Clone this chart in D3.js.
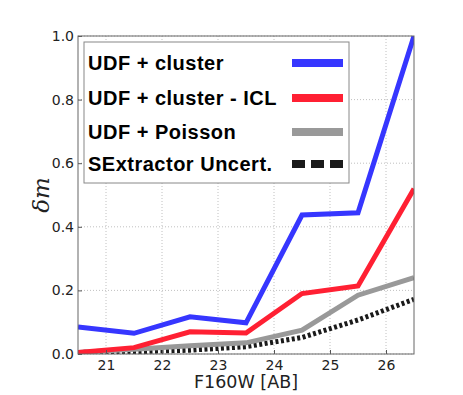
<!DOCTYPE html>
<html>
<head>
<meta charset="utf-8">
<script src="https://cdn.jsdelivr.net/npm/d3@7"></script>
<style>
  body { margin: 0; background: #fff; }
  text { font-family: "DejaVu Sans", sans-serif; }
</style>
</head>
<body>
<div id="chart"></div>
<script>
var width = 463;
var height = 395;

// magnitude bins
var mags = [20.5, 21.5, 22.5, 23.5, 24.5, 25.5, 26.5];
var udfCluster = [0.085, 0.065, 0.117, 0.098, 0.437, 0.444, 1.0];
var udfClusterIcl = [0.005, 0.02, 0.07, 0.066, 0.19, 0.214, 0.52];
var udfPoisson = [0.005, 0.015, 0.026, 0.035, 0.075, 0.185, 0.24];
var sexUncert = [0.005, 0.007, 0.012, 0.023, 0.052, 0.107, 0.172];
var xTicks = [21, 22, 23, 24, 25, 26];
var yTicks = [0.0, 0.2, 0.4, 0.6, 0.8, 1.0];
var names = ["UDF + cluster", "UDF + cluster - ICL", "UDF + Poisson", "SExtractor Uncert."];

var margin = {left: 78, top: 36, right: 49, bottom: 41};
var w = width - margin.left - margin.right;
var h = height - margin.top - margin.bottom;

var svg = d3.select("#chart").append("svg")
    .attr("width", width)
    .attr("height", height);

var g = svg.append("g")
    .attr("transform", "translate(" + margin.left + "," + margin.top + ")");

var x = d3.scaleLinear().domain([20.5, 26.5]).range([0, w]);
var y = d3.scaleLinear().domain([0, 1]).range([h, 0]);

// grid
g.selectAll(".vgrid").data(xTicks).enter().append("line")
    .attr("x1", d => x(d)).attr("x2", d => x(d))
    .attr("y1", 0).attr("y2", h)
    .attr("stroke", "#b0b0b0").attr("stroke-width", 0.8)
    .attr("stroke-dasharray", "1,2");
g.selectAll(".hgrid").data(yTicks).enter().append("line")
    .attr("y1", d => y(d)).attr("y2", d => y(d))
    .attr("x1", 0).attr("x2", w)
    .attr("stroke", "#b0b0b0").attr("stroke-width", 0.8)
    .attr("stroke-dasharray", "1,2");

svg.append("defs").append("clipPath").attr("id", "clip")
  .append("rect").attr("width", w).attr("height", h);

var series = [
  {vals: udfCluster, color: "#3636ff", dash: null},
  {vals: udfClusterIcl, color: "#ff2033", dash: null},
  {vals: udfPoisson, color: "#999999", dash: null},
  {vals: sexUncert, color: "#1a1a1a", dash: "3,2.5"}
];

var line = d3.line()
    .x((d, i) => x(mags[i]))
    .y(d => y(d));

var lines = g.append("g").attr("clip-path", "url(#clip)");
series.slice().reverse().forEach(function(s) {
  lines.append("path")
    .attr("d", line(s.vals))
    .attr("fill", "none")
    .attr("stroke", s.color)
    .attr("stroke-width", 5)
    .attr("stroke-linejoin", "miter")
    .attr("stroke-dasharray", s.dash);
});

// axes
var xAxis = d3.axisBottom(x).tickValues(xTicks).tickSize(-4).tickPadding(6).tickFormat(d3.format("d"));
var yAxis = d3.axisLeft(y).tickValues(yTicks).tickSize(-4).tickPadding(6).tickFormat(d3.format(".1f"));

var gx = g.append("g").attr("transform", "translate(0," + h + ")").call(xAxis);
var gy = g.append("g").call(yAxis);
[gx, gy].forEach(function(a) {
  a.select(".domain").remove();
  a.selectAll("line").attr("stroke", "#555");
  a.selectAll("text").attr("font-size", 14).attr("fill", "#222")
    .style("font-family", "DejaVu Sans, sans-serif");
});
gy.selectAll("text").attr("dx", 2);

g.append("rect")
    .attr("width", w).attr("height", h)
    .attr("fill", "none").attr("stroke", "#666").attr("stroke-width", 1);

// labels
svg.append("text")
    .attr("x", margin.left + w / 2).attr("y", 388)
    .attr("text-anchor", "middle")
    .attr("font-size", 17.5).attr("fill", "#222")
    .text("F160W [AB]");

svg.append("text")
    .attr("transform", "translate(49," + (margin.top + h / 2) + ") rotate(-90)")
    .attr("text-anchor", "middle")
    .attr("font-size", 23).attr("font-style", "italic")
    .style("font-family", "DejaVu Serif, serif")
    .attr("fill", "#222")
    .text("δm");

// legend
var leg = svg.append("g");
leg.append("rect")
    .attr("x", 84).attr("y", 42).attr("width", 265).attr("height", 141)
    .attr("fill", "#fff").attr("stroke", "#888").attr("stroke-width", 1);
var rowY = [63, 98, 132, 164];
names.forEach(function(n, i) {
  leg.append("text")
    .attr("x", 88).attr("y", rowY[i]).attr("dy", "0.36em")
    .attr("font-size", 20).attr("font-weight", "bold").attr("fill", "#000")
    .attr("letter-spacing", 0.5)
    .style("font-family", "Liberation Sans, Arial, sans-serif")
    .text(n);
  leg.append("line")
    .attr("x1", 292).attr("x2", 343)
    .attr("y1", rowY[i]).attr("y2", rowY[i])
    .attr("stroke", series[i].color)
    .attr("stroke-width", 8)
    .attr("stroke-dasharray", i === 3 ? "13,6" : null);
});
</script>
</body>
</html>
